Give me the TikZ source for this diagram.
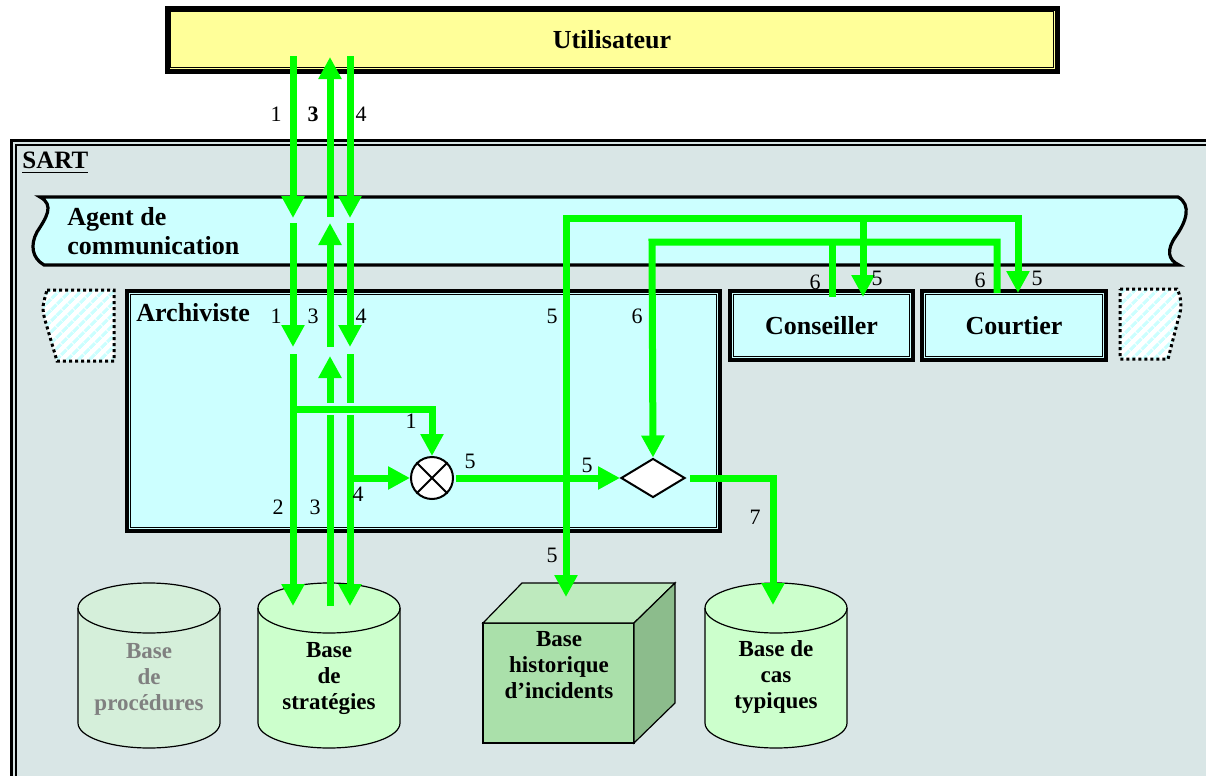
\documentclass[tikz,border=0pt]{standalone}
\usepackage{fontspec}
\setmainfont{Liberation Serif}
\usetikzlibrary{arrows.meta, positioning, shapes.geometric, patterns.meta, calc}

\definecolor{fluxgreen}{RGB}{0,255,0}
\definecolor{sartgrey}{RGB}{217,230,230}
\definecolor{agentcyan}{RGB}{204,255,255}
\definecolor{useryellow}{RGB}{255,255,153}
\definecolor{basegreen}{RGB}{204,255,204}
\definecolor{basepale}{RGB}{213,239,218}
\definecolor{cubefront}{RGB}{170,224,170}
\definecolor{cubetop}{RGB}{190,234,190}
\definecolor{cubeside}{RGB}{140,188,140}

\tikzset{
  framed/.style={draw=black, line width=2pt,
    path picture={\draw[line width=0.6pt] ([shift={(1.8pt,-1.8pt)}]path picture bounding box.north west) rectangle ([shift={(-1.8pt,1.8pt)}]path picture bounding box.south east);}},
  sartbox/.style={draw=black, line width=1.5pt, fill=sartgrey,
    path picture={\draw[line width=1pt] ([shift={(2.3pt,-2.3pt)}]path picture bounding box.north west) rectangle ([shift={(-2.3pt,2.3pt)}]path picture bounding box.south east);}},
  flux/.style={draw=fluxgreen, line width=3.5pt},
  fluxarrow/.style={flux, -{Triangle[width=11pt, length=11pt]}},
  boxlabel/.style={font=\fontsize{13}{14.5}\selectfont\bfseries},
  baselabel/.style={font=\fontsize{11.5}{13}\selectfont\bfseries, align=center, inner sep=0pt},
  num/.style={font=\fontsize{11}{12}\selectfont, inner sep=0pt},
  hatched/.style={draw=black, line width=1.5pt, dash pattern=on 1.5pt off 1.5pt,
    preaction={fill=white}, pattern={Lines[angle=45, distance=4pt, line width=1.6pt]}, pattern color=agentcyan},
}

\begin{document}
\begin{tikzpicture}[x=0.5pt, y=-0.5pt]
\useasboundingbox (0,0) rectangle (1206,776);
\clip (0,0) rectangle (1206,776);

% system frame
\node[sartbox, anchor=north west, minimum width=640pt, minimum height=340pt] (sart) at (9.5,138.5) {};
\node[anchor=north west, inner sep=0pt, font=\fontsize{12.5}{14}\selectfont\bfseries] (sartlbl) at (22,152) {\underline{SART}};

% user
\node[framed, line width=2.5pt, fill=useryellow, minimum width=445pt, minimum height=31.5pt, boxlabel] (user) at (612,39.5) {Utilisateur};

% communication agent (banner)
\filldraw[fill=agentcyan, line width=1.6pt]
  (40,197) -- (1178,197)
  .. controls (1192,205) and (1186,222) .. (1176,236)
  .. controls (1166,250) and (1168,260) .. (1179,265)
  -- (44,265)
  .. controls (32,258) and (30,245) .. (37,232)
  .. controls (46,218) and (55,205) .. (40,197) -- cycle;
\node[boxlabel, align=left, anchor=west, inner sep=0pt] (agent) at (67,231) {Agent de\\communication};

% hidden agents
\path[hatched] (47,290) -- (114,290) -- (114,361) -- (57,361) -- (45,320) .. controls (42,308) .. (47,290) -- cycle;
\path[hatched] (1120,289) -- (1177,289) .. controls (1183,300) and (1181,312) .. (1178,320) -- (1168,359) -- (1120,359) -- cycle;

% agents
\node[framed, fill=agentcyan, minimum width=296.5pt, minimum height=120pt] (archiv) at (423.5,411) {};
\node[boxlabel, anchor=base west, inner sep=0pt] (archivlbl) at (136,321) {Archiviste};
\node[framed, fill=agentcyan, minimum width=91.5pt, minimum height=34.5pt, boxlabel] (cons) at (821.5,325.5) {Conseiller};
\node[framed, fill=agentcyan, minimum width=92pt, minimum height=34.5pt, boxlabel] (cour) at (1014,325.5) {Courtier};

% data bases
\foreach \cx/\col in {149/basepale, 329/basegreen, 776/basegreen}{
  \filldraw[fill=\col, line width=0.6pt] (\cx-71,608) -- (\cx-71,723)
    arc[start angle=180, end angle=0, x radius=71, y radius=25] -- (\cx+71,608)
    arc[start angle=0, end angle=-180, x radius=71, y radius=25] -- cycle;
  \draw[line width=0.6pt] (\cx-71,608) arc[start angle=180, end angle=0, x radius=71, y radius=25];
}
\filldraw[fill=cubefront, line width=0.6pt] (483,623) rectangle (634,743);
\filldraw[fill=cubetop, line width=0.6pt] (483,623) -- (522,583) -- (675,583) -- (634,623) -- cycle;
\filldraw[fill=cubeside, line width=0.6pt] (634,623) -- (675,583) -- (675,703) -- (634,743) -- cycle;

\node[baselabel, text=gray] (procBase) at (149,679) {Base\\de\\procédures};
\node[baselabel] (stratBase) at (329,679) {Base\\de\\stratégies};
\node[baselabel] (histBase) at (559,665) {Base\\historique\\d’incidents};
\node[baselabel] (casBase) at (776,677) {Base de\\cas\\typiques};

% operators
\node[circle, draw, fill=white, line width=1pt, minimum size=21pt, inner sep=0pt] (mult) at (432,478) {};
\draw[line width=1pt] (mult.north east) -- (mult.south west) (mult.north west) -- (mult.south east);
\node[diamond, draw, fill=white, line width=1pt, minimum width=32pt, minimum height=19.5pt, inner sep=0pt] (sel) at (653,478) {};

% flow 1
\coordinate (c1top) at (293,56);
\coordinate (c1ag) at (293,218);
\coordinate (c1agb) at (293,223);
\coordinate (c1ar) at (293,347);
\coordinate (c1arb) at (293,354);
\coordinate (c1bend) at (293,409);
\coordinate (c1base) at (293,606);
% flow 3
\coordinate (c3top) at (330,57);
\coordinate (c3ag) at (330,217);
\coordinate (c3agb) at (330,223);
\coordinate (c3ar) at (330,347);
\coordinate (c3arb) at (330,356);
\coordinate (c3gapa) at (330,403);
\coordinate (c3gapb) at (330,415);
\coordinate (c3base) at (330,606);
% flow 4
\coordinate (c4top) at (350,56);
\coordinate (c4ag) at (350,218);
\coordinate (c4agb) at (350,223);
\coordinate (c4ar) at (350,347);
\coordinate (c4arb) at (350,354);
\coordinate (c4gapa) at (350,403);
\coordinate (c4gapb) at (350,415);
\coordinate (c4branch) at (350,478);
\coordinate (c4base) at (350,606);
% flows 5, 6, 7
\coordinate (c5a) at (566,218);
\coordinate (c5b) at (863,218);
\coordinate (c5c) at (1018,218);
\coordinate (c5hist) at (566,597);
\coordinate (c5cons) at (863,297);
\coordinate (c5cour) at (1018,293);
\coordinate (c6a) at (652,242);
\coordinate (c6b) at (832,242);
\coordinate (c6cons) at (832,297);
\coordinate (c6cour) at (997,293);
\coordinate (c7cas) at (773,605);

\draw[fluxarrow] (c1top) -- (c1ag);
\draw[fluxarrow] (c1agb) -- (c1ar);
\draw[fluxarrow] (c1arb) -- (c1base);
\draw[fluxarrow] (c1bend) -| (mult.north);

\draw[flux] (c3base) -- (c3gapb);
\draw[fluxarrow] (c3gapa) -- (c3arb);
\draw[fluxarrow] (c3ar) -- (c3agb);
\draw[fluxarrow] (c3ag) -- (c3top);

\draw[fluxarrow] (c4top) -- (c4ag);
\draw[fluxarrow] (c4agb) -- (c4ar);
\draw[flux] (c4arb) -- (c4gapa);
\draw[fluxarrow] (c4gapb) -- (c4base);
\draw[fluxarrow] (c4branch) -- (mult.west);

\draw[fluxarrow] ([xshift=1pt]mult.east) -- (sel.west);
\draw[fluxarrow] ([xshift=2pt]sel.east) -| (c7cas);

\draw[flux, {Triangle[width=11pt, length=11pt]}-{Triangle[width=11pt, length=11pt]}] (c5hist) |- (c5c) -- (c5cour);
\draw[fluxarrow] (c5b) -- (c5cons);
\draw[fluxarrow] (c6cour) |- (c6a) -- (sel.north);
\draw[flux] (c6b) -- (c6cons);

% flow numbers
\node[num] (n1u) at (276,114) {1};
\node[num, font=\fontsize{11}{12}\selectfont\bfseries] (n3u) at (313,114) {3};
\node[num] (n4u) at (361,114) {4};
\node[num] (n1a) at (276,316) {1};
\node[num] (n3a) at (313,316) {3};
\node[num] (n4a) at (361,316) {4};
\node[num] (n1m) at (411,421) {1};
\node[num] (n2b) at (278,507) {2};
\node[num] (n3b) at (315,507) {3};
\node[num] (n4b) at (358,494) {4};
\node[num] (n5m) at (470,461) {5};
\node[num] (n5s) at (587,465) {5};
\node[num] (n7) at (755,517) {7};
\node[num] (n5a) at (552,316) {5};
\node[num] (n6a) at (637,316) {6};
\node[num] (n5h) at (552,555) {5};
\node[num] (n6c) at (815,282) {6};
\node[num] (n5c) at (877,278) {5};
\node[num] (n6k) at (980,280) {6};
\node[num] (n5k) at (1037,278) {5};
\end{tikzpicture}
\end{document}
